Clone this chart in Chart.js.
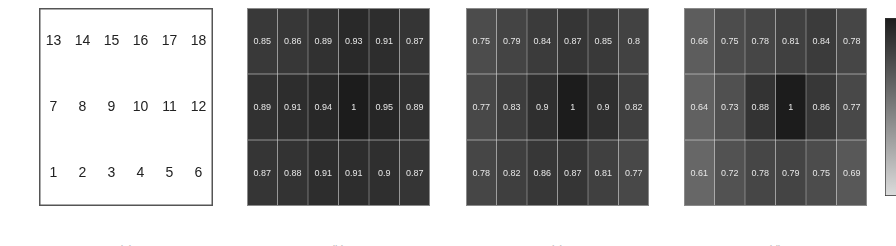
<!DOCTYPE html>
<html>
<head>
<meta charset="utf-8">
<script src="https://cdn.jsdelivr.net/npm/chart.js@4"></script>
<style>
  html,body{margin:0;padding:0;background:#fff;width:896px;height:246px;overflow:hidden;position:relative;font-family:"Liberation Sans",Arial,sans-serif;}
  canvas{position:absolute;}
  .lbl{position:absolute;font-size:11px;color:#bbb;width:120px;text-align:center;}
</style>
</head>
<body>
<canvas id="p1" style="left:39px;top:8px" width="174" height="198"></canvas>
<canvas id="p2" style="left:247px;top:8px" width="183" height="198"></canvas>
<canvas id="p3" style="left:466px;top:8px" width="183" height="198"></canvas>
<canvas id="p4" style="left:684px;top:8px" width="183" height="198"></canvas>
<canvas id="cb" style="left:885px;top:18px" width="30" height="178"></canvas>
<div class="lbl" style="left:66px;top:243px">(a)</div>
<div class="lbl" style="left:278px;top:243px">(b)</div>
<div class="lbl" style="left:497px;top:243px">(c)</div>
<div class="lbl" style="left:715px;top:243px">(d)</div>
<script>
// ---- data (rows listed top to bottom) ----
const columns = ['c1','c2','c3','c4','c5','c6'];
const layoutTop = [13,14,15,16,17,18];
const layoutMid = [7,8,9,10,11,12];
const layoutBot = [1,2,3,4,5,6];

const bTop = [0.85,0.86,0.89,0.93,0.91,0.87];
const bMid = [0.89,0.91,0.94,1,0.95,0.89];
const bBot = [0.87,0.88,0.91,0.91,0.9,0.87];

const cTop = [0.75,0.79,0.84,0.87,0.85,0.8];
const cMid = [0.77,0.83,0.9,1,0.9,0.82];
const cBot = [0.78,0.82,0.86,0.87,0.81,0.77];

const dTop = [0.66,0.75,0.78,0.81,0.84,0.78];
const dMid = [0.64,0.73,0.88,1,0.86,0.77];
const dBot = [0.61,0.72,0.78,0.79,0.75,0.69];

function gray(v){ const g = Math.round(220 - 192*v); return `rgb(${g},${g},${g})`; }
function fmt(v){ return String(v); }

const cellLabels = {
  id:'cellLabels',
  afterDatasetsDraw(chart){
    const o = chart.options.plugins.cellLabels;
    const ctx = chart.ctx;
    ctx.save();
    ctx.font = o.font;
    ctx.fillStyle = o.color;
    ctx.textAlign = 'center';
    ctx.textBaseline = 'middle';
    chart.data.datasets.forEach((ds,di)=>{
      const meta = chart.getDatasetMeta(di);
      meta.data.forEach((el,i)=>{
        const x = el.x;
        const y = (el.y + el.base)/2;
        ctx.fillText(fmt(ds.labelsSrc[i]), x, y + 0.5);
      });
    });
    const a = chart.chartArea;
    ctx.strokeStyle = o.frame;
    ctx.lineWidth = o.frameWidth;
    ctx.strokeRect(a.left + o.frameWidth/2, a.top + o.frameWidth/2, a.right - a.left - o.frameWidth, a.bottom - a.top - o.frameWidth);
    ctx.restore();
  }
};

function makePanel(id, rowsTopToBottom, isLayout){
  const rows = rowsTopToBottom.slice().reverse(); // bottom first for stacking
  const datasets = rows.map(r => ({
    data: r.map(()=>1),
    labelsSrc: r,
    backgroundColor: isLayout ? '#ffffff' : r.map(gray),
    borderColor: isLayout ? 'rgba(0,0,0,0)' : 'rgba(150,150,150,0.1)',
    borderWidth: isLayout ? 0 : 0.5,
    borderSkipped: false,
    barPercentage: 1,
    categoryPercentage: 1
  }));
  new Chart(document.getElementById(id), {
    type:'bar',
    data:{ labels: columns, datasets },
    options:{
      responsive:false, animation:false, devicePixelRatio:1,
      layout:{padding:0},
      scales:{
        x:{display:false, stacked:true},
        y:{display:false, stacked:true, min:0, max:3}
      },
      plugins:{
        legend:{display:false}, tooltip:{enabled:false},
        cellLabels: isLayout
          ? {font:'14px "Liberation Sans", Arial, sans-serif', color:'#222', frame:'#555', frameWidth:1.5}
          : {font:'9px "Liberation Sans", Arial, sans-serif', color:'#e6e6e6', frame:'#8a8a8a', frameWidth:1}
      }
    },
    plugins:[cellLabels]
  });
}

makePanel('p1', [layoutTop, layoutMid, layoutBot], true);
makePanel('p2', [bTop, bMid, bBot], false);
makePanel('p3', [cTop, cMid, cBot], false);
makePanel('p4', [dTop, dMid, dBot], false);

// colorbar
const cbLevels = [1];
new Chart(document.getElementById('cb'), {
  type:'bar',
  data:{ labels:['cb'], datasets:[{
    data: cbLevels,
    backgroundColor(ctx){
      const a = ctx.chart.chartArea;
      if(!a) return '#888';
      const g = ctx.chart.ctx.createLinearGradient(0, a.top, 0, a.bottom);
      g.addColorStop(0, gray(1));
      g.addColorStop(1, gray(0));
      return g;
    },
    borderColor:'#333', borderWidth:1, borderSkipped:false,
    barPercentage:1, categoryPercentage:1
  }]},
  options:{
    responsive:false, animation:false, devicePixelRatio:1,
    layout:{padding:0},
    scales:{ x:{display:false}, y:{display:false, min:0, max:1} },
    plugins:{legend:{display:false}, tooltip:{enabled:false}}
  }
});
</script>
</body>
</html>
